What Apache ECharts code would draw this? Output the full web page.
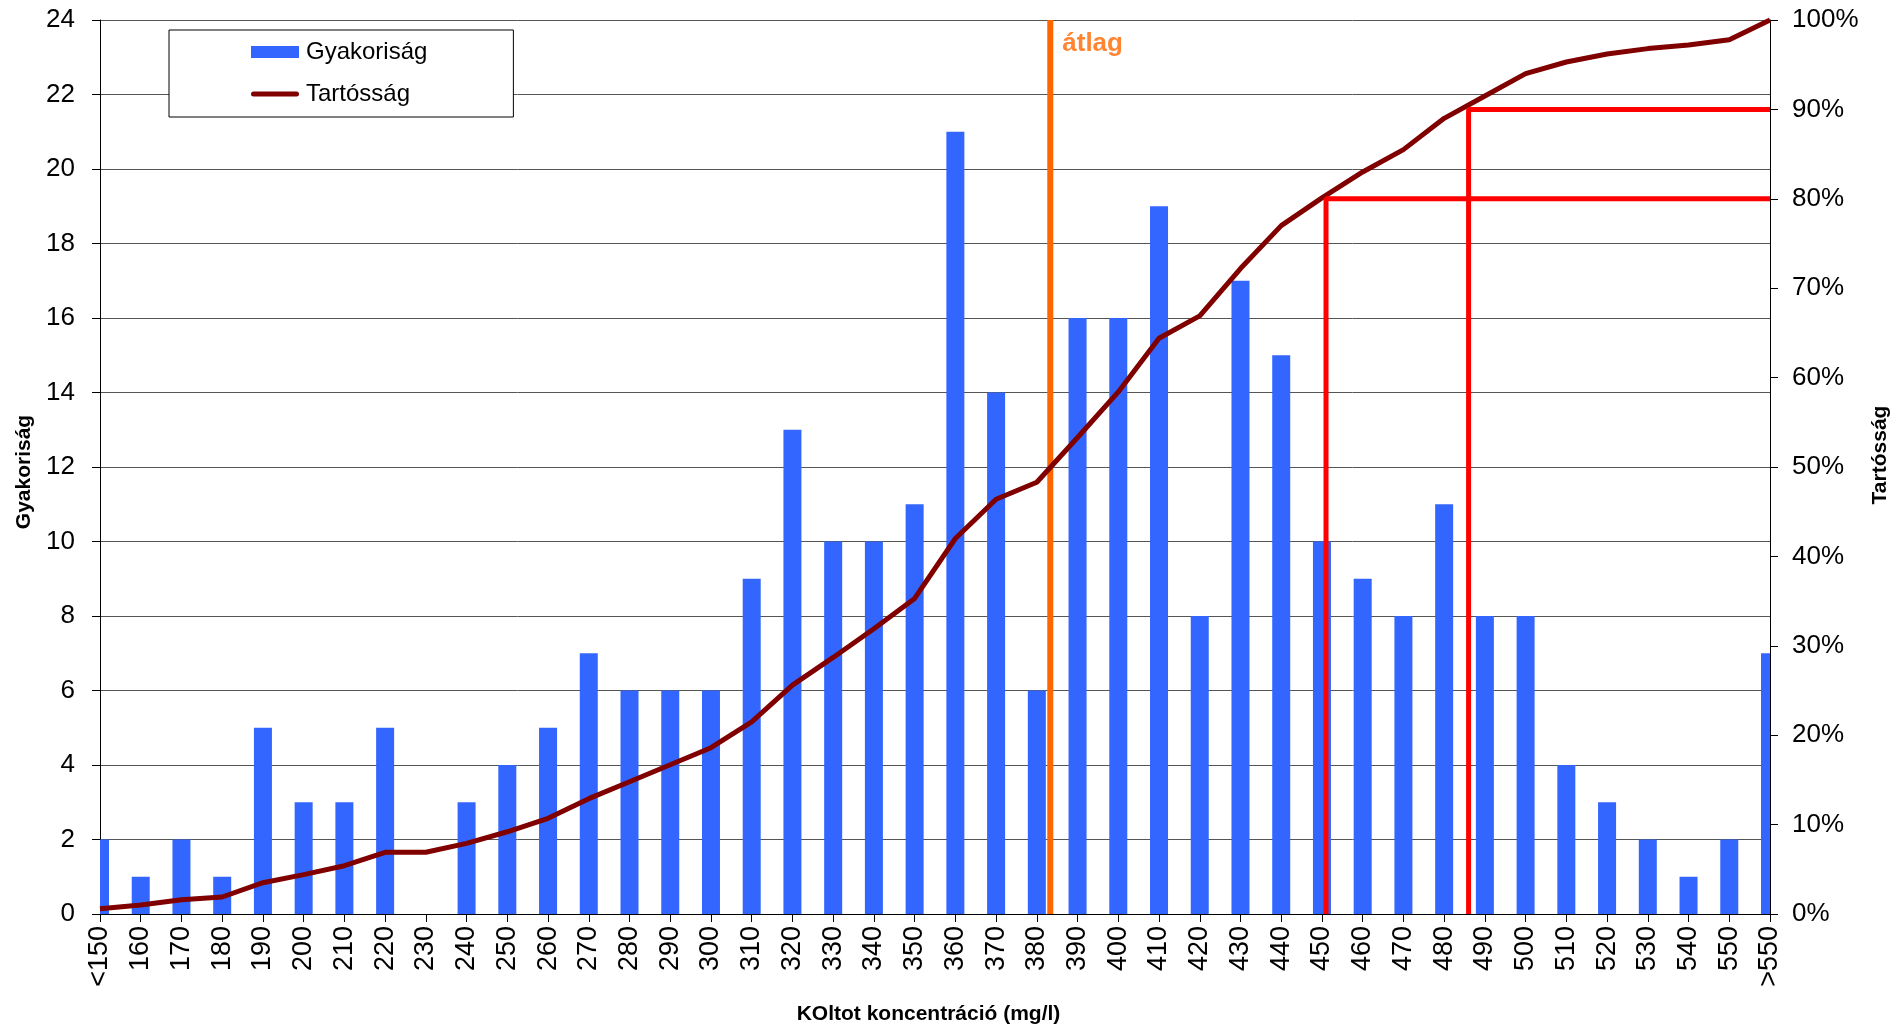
<!DOCTYPE html>
<html>
<head>
<meta charset="utf-8">
<script src="https://cdn.jsdelivr.net/npm/echarts@6/dist/echarts.min.js"></script>
<style>
  html, body { margin: 0; padding: 0; background: #ffffff; }
  #chart { width: 1891px; height: 1028px; }
</style>
</head>
<body>
<div id="chart"></div>
<script>
// Concentration classes (mg/l)
const categories = ['<150','160','170','180','190','200','210','220','230','240',
  '250','260','270','280','290','300','310','320','330','340',
  '350','360','370','380','390','400','410','420','430','440',
  '450','460','470','480','490','500','510','520','530','540',
  '550','>550'];

// Number of samples in each class
const frequency = [2,1,2,1,5,3,3,5,0,3,
  4,5,7,6,6,6,9,13,10,10,
  11,21,14,6,16,16,19,8,17,15,
  10,9,8,11,8,8,4,3,2,1,
  2,7];

// Cumulative share (%)
const cumulativePct = [0.6,1.0,1.6,1.9,3.5,4.4,5.4,6.9,6.9,7.9,
  9.2,10.7,12.9,14.8,16.7,18.6,21.5,25.6,28.7,31.9,
  35.3,42.0,46.4,48.3,53.3,58.4,64.4,66.9,72.2,77.0,
  80.1,83.0,85.5,89.0,91.5,94.0,95.3,96.2,96.8,97.2,
  97.8,100];

// Reference concentrations (mg/l)
const meanConcentration = 383.3;
const p80Concentration = 451;
const p90Concentration = 486;
const p80Level = 80;
const p90Level = 90;

const FONT = '"Liberation Sans", Arial, sans-serif';
const BAR_WIDTH = 18;
const chart = echarts.init(document.getElementById('chart'), null, { renderer: 'canvas' });

// value axis sharing the grid: class i sits at 150 + 10*i
const valueMin = 150;
const valueMax = 150 + 10 * (categories.length - 1);

// bars centred on the class ticks, cut off at the plot edges
function renderBar(params, api) {
  const idx = api.value(0);
  const val = api.value(1);
  const top = api.coord([idx, val]);
  const base = api.coord([idx, 0]);
  const cs = params.coordSys;
  const shape = echarts.graphic.clipRectByRect(
    { x: top[0] - BAR_WIDTH / 2, y: top[1], width: BAR_WIDTH, height: base[1] - top[1] },
    { x: cs.x, y: cs.y, width: cs.width, height: cs.height }
  );
  if (!shape) return;
  return { type: 'rect', shape: shape, style: api.style() };
}

chart.setOption({
  animation: false,
  backgroundColor: '#ffffff',
  textStyle: { fontFamily: FONT, color: '#000' },
  grid: { left: 100, right: 121, top: 20, bottom: 114, containLabel: false, outerBoundsMode: 'none' },
  legend: {
    data: [
      { name: 'Gyakoriság', icon: 'rect' },
      { name: 'Tartósság', icon: 'path://M2.5,0 L45.5,0 A2.5,2.5 0 0 1 45.5,5 L2.5,5 A2.5,2.5 0 0 1 2.5,0 Z' }
    ],
    orient: 'vertical',
    left: 169,
    top: 30,
    padding: [8, 86, 9, 82],
    itemGap: 14,
    itemWidth: 48,
    itemHeight: 12,
    borderColor: '#000',
    borderWidth: 1,
    backgroundColor: '#fff',
    textStyle: { fontFamily: FONT, fontSize: 24, color: '#000', lineHeight: 28, padding: [0, 0, 0, 2] }
  },
  xAxis: [
    {
      type: 'category',
      data: categories,
      boundaryGap: false,
      name: 'KOltot koncentráció (mg/l)',
      nameLocation: 'middle',
      nameGap: 90,
      nameTextStyle: { fontFamily: FONT, fontSize: 21, fontWeight: 'bold', color: '#000', padding: [0, 13, 0, 0] },
      axisLine: { show: true, lineStyle: { color: '#000', width: 1 } },
      axisTick: { show: true, interval: 0, length: 8, lineStyle: { color: '#000' } },
      axisLabel: { interval: 0, rotate: 90, margin: 12, fontFamily: FONT, fontSize: 27, color: '#000' },
      splitLine: { show: false }
    },
    {
      type: 'value',
      min: valueMin,
      max: valueMax,
      show: false,
      splitLine: { show: false }
    }
  ],
  yAxis: [
    {
      type: 'value',
      min: 0,
      max: 24,
      interval: 2,
      name: 'Gyakoriság',
      nameLocation: 'middle',
      nameRotate: 90,
      nameGap: 62,
      nameTextStyle: { fontFamily: FONT, fontSize: 21, fontWeight: 'bold', color: '#000', padding: [0, 10, 0, 0] },
      axisLine: { show: true, lineStyle: { color: '#000', width: 1 } },
      axisTick: { show: true, length: 8, lineStyle: { color: '#000' } },
      axisLabel: { margin: 25, fontFamily: FONT, fontSize: 26, color: '#000' },
      splitLine: { show: true, lineStyle: { color: '#555', width: 1 } }
    },
    {
      type: 'value',
      min: 0,
      max: 100,
      interval: 10,
      position: 'right',
      name: 'Tartósság',
      nameLocation: 'middle',
      nameRotate: 90,
      nameGap: 95,
      nameTextStyle: { fontFamily: FONT, fontSize: 21, fontWeight: 'bold', color: '#000', padding: [0, 0, 0, 24] },
      axisLine: { show: true, lineStyle: { color: '#000', width: 1 } },
      axisTick: { show: true, length: 8, lineStyle: { color: '#000' } },
      axisLabel: { margin: 22, fontFamily: FONT, fontSize: 26, color: '#000', formatter: '{value}%' },
      splitLine: { show: false }
    }
  ],
  series: [
    {
      name: 'Gyakoriság',
      type: 'custom',
      xAxisIndex: 0,
      yAxisIndex: 0,
      data: frequency.map(function (v, i) { return [i, v]; }),
      encode: { x: 0, y: 1 },
      renderItem: renderBar,
      itemStyle: { color: '#3366ff' },
      z: 2
    },
    {
      name: 'átlag',
      type: 'line',
      xAxisIndex: 1,
      yAxisIndex: 0,
      data: [[meanConcentration, 0], [meanConcentration, 24]],
      symbol: 'none',
      silent: true,
      lineStyle: { color: '#ff6600', width: 6 },
      z: 3
    },
    {
      name: 'átlag felirat',
      type: 'scatter',
      xAxisIndex: 1,
      yAxisIndex: 0,
      data: [[meanConcentration, 24]],
      symbolSize: 2,
      clip: false,
      itemStyle: { color: 'rgba(0,0,0,0)' },
      silent: true,
      label: {
        show: true,
        formatter: 'átlag',
        position: [13, 12],
        align: 'left',
        verticalAlign: 'top',
        fontFamily: FONT,
        fontSize: 26,
        fontWeight: 'bold',
        color: '#ff6600'
      },
      z: 6
    },
    {
      name: 'Tartósság',
      type: 'line',
      xAxisIndex: 0,
      yAxisIndex: 1,
      data: cumulativePct,
      symbol: 'none',
      smooth: false,
      itemStyle: { color: '#800000' },
      lineStyle: { color: '#800000', width: 5 },
      z: 4
    },
    {
      name: '80%',
      type: 'line',
      xAxisIndex: 1,
      yAxisIndex: 1,
      data: [[p80Concentration, 0], [p80Concentration, p80Level], [valueMax, p80Level]],
      symbol: 'none',
      silent: true,
      lineStyle: { color: '#ff0000', width: 5 },
      z: 5
    },
    {
      name: '90%',
      type: 'line',
      xAxisIndex: 1,
      yAxisIndex: 1,
      data: [[p90Concentration, 0], [p90Concentration, p90Level], [valueMax, p90Level]],
      symbol: 'none',
      silent: true,
      lineStyle: { color: '#ff0000', width: 5 },
      z: 5
    }
  ]
});
</script>
</body>
</html>
